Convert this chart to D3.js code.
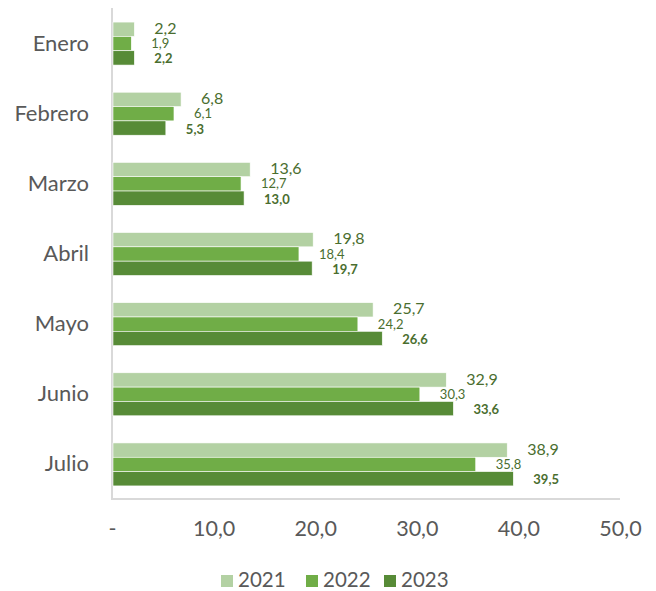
<!DOCTYPE html>
<html><head><meta charset="utf-8">
<script src="https://cdn.jsdelivr.net/npm/d3@7"></script>
<style>body{margin:0;background:#fff}svg{display:block}text{font-family:Lato,"Open Sans",sans-serif}</style>
</head><body>
<svg id="c" width="656" height="591"></svg>
<script>
const months = ["Enero","Febrero","Marzo","Abril","Mayo","Junio","Julio"];
const series = ["2021","2022","2023"];
const v2021 = [2.2,6.8,13.6,19.8,25.7,32.9,38.9];
const v2022 = [1.9,6.1,12.7,18.4,24.2,30.3,35.8];
const v2023 = [2.2,5.3,13.0,19.7,26.6,33.6,39.5];
const xTicks = [0,10,20,30,40,50];
const colors = ["#b3d1a3","#70ad47","#578b37"];
const values = [v2021,v2022,v2023];

const svg = d3.select("#c");
const x = d3.scaleLinear().domain([0,50]).range([112,620]);
const y = d3.scaleBand().domain(months).range([8.5,499.5]).paddingInner(0.387).paddingOuter(0.1935);
const ys = d3.scaleBand().domain(series).range([0,y.bandwidth()]);
const fmt = v => v===0 ? "-" : d3.format(".1f")(v).replace(".",",");

// axis lines
svg.append("line").attr("x1",112).attr("x2",112).attr("y1",8).attr("y2",499.5).attr("stroke","#d9d9d9").attr("stroke-width",2);
svg.append("line").attr("x1",111).attr("x2",620).attr("y1",499).attr("y2",499).attr("stroke","#d9d9d9").attr("stroke-width",2);

// bars
series.forEach((s,si)=>{
  const g = svg.append("g");
  g.selectAll("rect").data(months).join("rect")
    .attr("x",x(0)+1).attr("y",m=>y(m)+ys(s))
    .attr("width",(m,i)=>x(values[si][i])-x(0)-1)
    .attr("height",ys.bandwidth())
    .attr("fill",colors[si]).attr("stroke","#fff").attr("stroke-width",0.6);
  g.selectAll("text").data(months).join("text")
    .attr("x",(m,i)=>x(values[si][i])+20)
    .attr("y",m=>y(m)+ys(s)+ys.bandwidth()/2+(si===0?-1:si===2?1:0))
    .attr("dy","0.35em")
    .attr("fill","#4a6e2f")
    .attr("font-size",si===0?16:13)
    .attr("font-weight",si===2?"bold":"normal")
    .text((m,i)=>fmt(values[si][i]));
});

// category labels
const yAxis = d3.axisLeft(y).tickSize(0).tickPadding(0);
const ya = svg.append("g").attr("transform","translate(89,0)").call(yAxis);
ya.select(".domain").remove();
ya.selectAll("text").attr("font-size",22).attr("fill","#595959").style("font-family","Lato,sans-serif");

// x tick labels
const xAxis = d3.axisBottom(x).tickValues(xTicks).tickSize(0).tickPadding(0).tickFormat(fmt);
const xa = svg.append("g").attr("transform","translate(0,521)").call(xAxis);
xa.select(".domain").remove();
xa.selectAll("text").attr("font-size",21.5).attr("fill","#595959").style("font-family","Lato,sans-serif");

// legend
const lg = svg.append("g");
const legX = [221,306,384];
series.forEach((s,i)=>{
  lg.append("rect").attr("x",legX[i]).attr("y",575).attr("width",12).attr("height",12).attr("fill",colors[i]);
  lg.append("text").attr("x",legX[i]+17).attr("y",580).attr("dy","0.35em").attr("font-size",20.5).attr("fill","#595959").text(s);
});
</script>
</body></html>
